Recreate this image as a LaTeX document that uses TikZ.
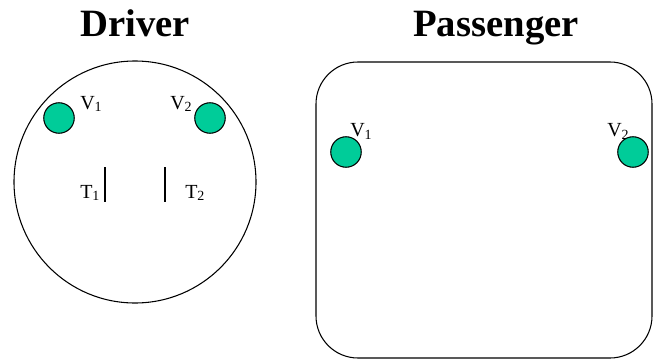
\documentclass[tikz,border=0pt]{standalone}
\usepackage{fontspec}
\setmainfont{Liberation Serif}
\newfontfamily\ttlfamily{Liberation Serif}[UprightFont={* Bold}]
\usepackage{tikz}
\usetikzlibrary{positioning}
\usepackage{xcolor}
\definecolor{valvegreen}{HTML}{00CC99}
\newcommand{\valvedot}[3]{%
  \node[valve] (#1) at (#2,#3) {};
}
\newcommand{\seatlabel}[4]{%
  \node[lbl] (#1) at (#2,#3) {#4};
}
\tikzset{
  valve/.style={circle,draw=black,line width=0.8pt,fill=valvegreen,
    minimum size=30.5*0.75pt,inner sep=0pt},
  lbl/.style={anchor=base west,inner sep=0pt,font=\fontsize{15}{17}\selectfont},
  ttl/.style={anchor=base,inner sep=0pt,font=\ttlfamily\fontsize{29}{32}\selectfont},
  outline/.style={draw=black,line width=0.8pt},
}
\begin{document}
\begin{tikzpicture}[x=0.75pt,y=-0.75pt]
  \useasboundingbox (0,0) rectangle (653,360);
  % titles
  \node[ttl] (drvtitle) at (135,37) {Driver};
  \node[ttl] (pastitle) at (496,37) {Passenger};
  % driver seat
  \node[outline,circle,minimum size=242*0.75pt,inner sep=0pt] (drvseat) at (135,182) {};
  \seatlabel{dv1}{80}{109}{V\textsubscript{1}}
  \seatlabel{dv2}{170}{109}{V\textsubscript{2}}
  \seatlabel{dt1}{80}{198}{T\textsubscript{1}}
  \seatlabel{dt2}{185}{198}{T\textsubscript{2}}
  \valvedot{dvalve1}{59}{118}
  \valvedot{dvalve2}{210}{118}
  \draw[outline] (105,167) -- (105,202);
  \draw[outline] (165,167) -- (165,202);
  % passenger seat
  \draw[outline,rounded corners=42*0.75pt] (316,62) rectangle (652,358);
  \seatlabel{pv1}{350}{137}{V\textsubscript{1}}
  \seatlabel{pv2}{607}{137}{V\textsubscript{2}}
  \valvedot{pvalve1}{346}{152}
  \valvedot{pvalve2}{633}{152}
\end{tikzpicture}
\end{document}
